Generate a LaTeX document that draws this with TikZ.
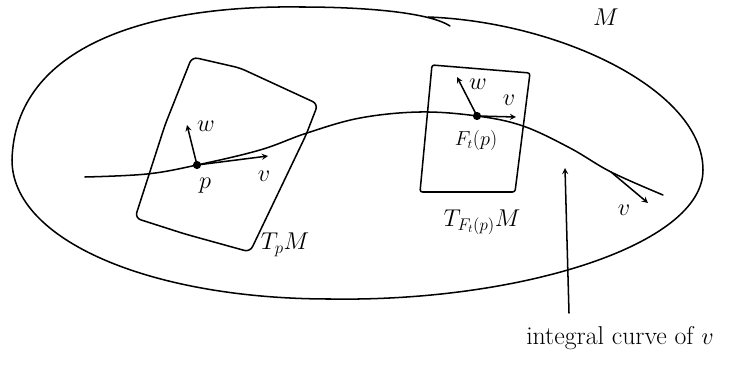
\documentclass[tikz,border=0pt]{standalone}
\usepackage{fontspec}
\usetikzlibrary{arrows,positioning,calc}

\begin{document}
\begin{tikzpicture}[
    x=0.03cm, y=0.03cm,
    pen/.style={line width=1.3pt, line cap=round, line join=round},
    plane/.style={pen, rounded corners=5pt},
    vec/.style={pen, ->, >=stealth},
    dot/.style={circle, fill, inner sep=0pt, minimum size=7pt},
    hand/.style={font=\fontsize{20}{24}\selectfont, inner sep=1pt},
    note/.style={font=\fontsize{22}{26}\selectfont, inner sep=1pt}
]
\useasboundingbox (0,0) rectangle (745,-369);

% Manifold
\draw[pen] (428,-17) .. controls (560,-22) and (703,-90) .. (703,-170)
    .. controls (703,-245) and (520,-302) .. (330,-299)
    .. controls (150,-299) and (12,-240) .. (12,-160)
    .. controls (15,-45) and (150,-5) .. (300,-7)
    .. controls (370,-7) and (430,-13) .. (450,-26);
\node[hand] (mlabel) at (606,-17) {$M$};

% Tangent planes
\draw[plane] (192,-57) -- (240,-68) -- (318,-104) -- (306,-135) -- (250,-252) -- (185,-234) -- (135,-218) -- (165,-125) -- cycle;
\draw[plane, rounded corners=2pt] (432,-65) -- (530,-73) -- (515,-192) -- (420,-192) -- cycle;

% Points
\node[dot] (p) at (197,-165) {};
\node[dot] (fp) at (477,-116) {};
\coordinate (q) at (611,-172);

% Integral curve
\draw[pen] plot[smooth, tension=0.6] coordinates {(85,-177) (147,-174) (p.center) (260,-150) (307,-133) (360,-118) (420,-112) (fp.center) (523,-126) (570,-148) (q) (663,-195)};

% Vectors at p
\coordinate (pw) at (187,-125);
\coordinate (pv) at (268,-156);
\draw[vec] (p.center) -- (pw);
\draw[vec] (p.center) -- (pv);
\node[hand] (pwlabel) at (206,-126) {$w$};
\node[hand] (pvlabel) at (264,-176) {$v$};
\node[hand] (plabel) at (205,-186) {$p$};
\node[hand] (tplabel) at (285,-245) {$T_pM$};

% Vectors at F_t(p)
\coordinate (fw) at (457,-77);
\coordinate (fv) at (516,-117);
\draw[vec] (fp.center) -- (fw);
\draw[vec] (fp.center) -- (fv);
\node[hand] (fwlabel) at (478,-84) {$w$};
\node[hand] (fvlabel) at (509,-100) {$v$};
\node[hand, font=\fontsize{16}{20}\selectfont] (fplabel) at (476,-140) {$F_t(p)$};
\node[hand] (tflabel) at (482,-222) {$T_{F_t(p)}M$};

% Vector along the curve
\coordinate (qv) at (648,-203);
\draw[vec] (q) -- (qv);
\node[hand] (qvlabel) at (624,-210) {$v$};

% Note
\node[note] (icnote) at (620,-338) {integral curve of $v$};
\coordinate (ictail) at (569,-313);
\coordinate (ichead) at (565,-168);
\draw[vec] (ictail) -- (ichead);

\end{tikzpicture}
\end{document}
